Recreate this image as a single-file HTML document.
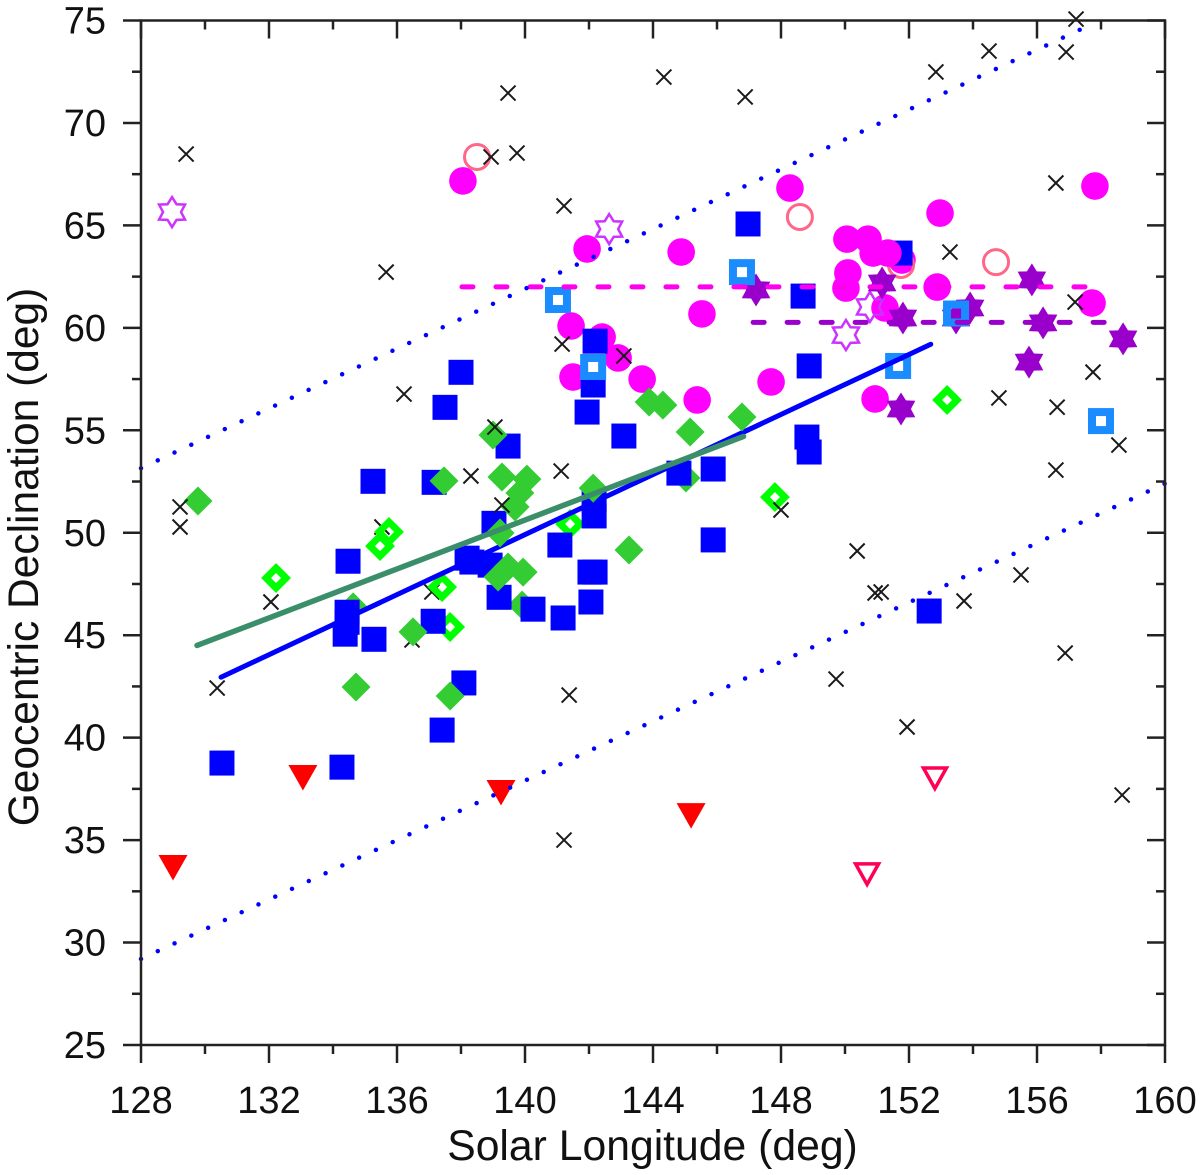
<!DOCTYPE html>
<html lang="en">
<head>
<meta charset="utf-8">
<title>Geocentric Declination vs Solar Longitude</title>
<style>
html,body{margin:0;padding:0;background:#fff;width:1200px;height:1175px;overflow:hidden}
svg{display:block}
text{font-family:"Liberation Sans",Arial,sans-serif;fill:#111}
</style>
</head>
<body>
<svg id="chart" xmlns="http://www.w3.org/2000/svg" width="1200" height="1175" viewBox="0 0 1200 1175">
  <g id="series-layer"></g>
  <g id="axis-layer"></g>
  <text x="652.5" y="1160" font-size="42.7" text-anchor="middle">Solar Longitude (deg)</text>
  <text transform="translate(38,557) rotate(-90)" font-size="42.5" text-anchor="middle">Geocentric Declination (deg)</text>
</svg>
<script>
// Axis tick values
const xMajorTicks = [128,132,136,140,144,148,152,156,160];
const xMinorTicks = [130,134,138,142,146,150,154,158];
const yMajorTicks = [25,30,35,40,45,50,55,60,65,70,75];
const yMinorTicks = [27.5,32.5,37.5,42.5,47.5,52.5,57.5,62.5,67.5,72.5];

// Lines
const upperDottedX = [128,157.41];
const upperDottedY = [53.15,74.6];
const lowerDottedX = [128,160];
const lowerDottedY = [29.2,52.4];
const blueFitX = [130.5,152.68];
const blueFitY = [42.95,59.2];
const greenFitX = [129.75,146.83];
const greenFitY = [44.5,54.7];
const magentaMeanX = [138.03,157.84];
const magentaMeanY = [62,62];
const purpleMeanX = [147.13,158.4];
const purpleMeanY = [60.27,60.27];

// Blue filled squares
const blueSquareX = [130.53,134.28,134.47,134.44,134.44,134.38,135.28,135.25,137.16,137.13,137.5,138,137.41,138.09,138.19,138.34,138.91,139.03,139.19,139.47,140.25,141.19,141.09,142.16,142.16,142.03,142.19,142.06,141.94,142.13,142.19,143.09,144.81,145.88,145.88,146.97,148.69,148.88,148.81,148.88,151.72,152.63];
const blueSquareY = [38.76,38.56,48.61,46.12,45.63,45.05,44.8,52.51,52.46,45.68,56.12,57.83,40.37,42.67,48.76,48.57,48.42,50.46,46.85,54.23,46.27,45.84,49.4,51.6,50.82,48.08,48.08,46.62,55.89,57.21,59.35,54.72,52.91,53.11,49.65,65.07,61.55,58.14,54.67,53.94,63.65,46.18];

// Light blue hollow squares
const hollowSquareX = [141.03,142.13,146.78,151.66,153.47,158];
const hollowSquareY = [61.36,58.09,62.72,58.14,60.7,55.45];

// Magenta filled circles (drawn below the blue squares)
const circleX = [138.06,141.94,141.44,142.41,141.5,142.91,143.66,144.88,145.53,145.38,147.69,148.28,150.94,152.97,152.88,157.81,157.72,151.25,151.78];
const circleY = [67.17,63.85,60.09,59.55,57.6,58.53,57.5,63.7,60.68,56.48,57.36,66.82,56.53,65.6,61.99,66.92,61.21,60.97,63.31];
// Magenta filled circles (drawn above the blue squares)
const clusterCircleX = [150.06,150.72,150.09,150.03,150.88,151.34];
const clusterCircleY = [64.33,64.33,62.68,61.94,63.65,63.65];

// Pink hollow circles
const hollowCircleX = [138.5,148.59,151.75,154.72];
const hollowCircleY = [68.34,65.41,63.07,63.21];

// Purple stars
const starX = [147.22,151.16,151.81,151.75,153.91,153.47,155.84,156.19,155.75,158.69];
const starY = [61.85,62.19,60.48,56.04,60.97,60.48,62.34,60.24,58.33,59.46];
const hollowStarX = [128.97,142.63,150.03,150.78];
const hollowStarY = [65.65,64.82,59.65,61.02];

// Green filled diamonds (below squares, then above squares)
const lowDiamondX = [134.63,139.91,145.03];
const lowDiamondY = [46.38,46.47,52.67];
const diamondX = [129.78,134.72,136.5,137.66,137.47,139,139.28,140.06,139.84,139.69,139.22,139.16,139.47,139.94,142.13,143.25,143.88,144.31,145.16,146.78];
const diamondY = [51.55,42.47,45.16,42.03,52.53,54.77,52.72,52.62,51.94,51.26,49.99,47.84,48.33,48.08,52.18,49.16,56.38,56.23,54.92,55.65];

// Lime hollow diamonds
const hollowDiamondX = [132.22,135.47,135.75,137.41,137.66,141.41,147.81,153.19];
const hollowDiamondY = [47.79,49.35,50.04,47.35,45.4,50.43,51.74,56.48];

// Red triangles
const triangleX = [129,133.06,139.25,145.19];
const triangleY = [33.69,38.08,37.35,36.22];
const hollowTriangleX = [152.81,150.69];
const hollowTriangleY = [38.03,33.35];

// Black crosses (beneath the diamonds)
const lowCrossX = [135.53,137.09,136.47];
const lowCrossY = [50.28,47.11,44.77];
// Black crosses (on top)
const crossX = [129.41,129.22,129.22,130.38,132.06,138.94,139.47,139.75,141.22,135.66,136.22,141.16,143.09,139.06,138.31,139.28,141.13,141.22,141.38,144.34,146.88,152.84,154.5,156.91,157.22,156.59,153.28,157.19,157.75,156.63,156.59,154.81,158.56,158.66,156.88,155.5,153.72,151.94,149.72,150.38,150.94,151.13,148];
const crossY = [68.48,51.26,50.28,42.42,46.62,68.34,71.46,68.53,65.95,62.72,56.77,59.21,58.63,55.16,52.77,51.35,53.01,35,42.08,72.24,71.27,72.49,73.51,73.46,75.07,67.07,63.7,61.26,57.84,56.13,53.06,56.58,54.28,37.2,44.13,47.94,46.67,40.52,42.86,49.11,47.06,47.11,51.11];

const NS = 'http://www.w3.org/2000/svg';
const X0 = 141, X1 = 1165, Y0 = 1045, Y1 = 20.5;
const sx = v => X0 + (v - 128) * (X1 - X0) / 32;
const sy = v => Y0 - (v - 25) * (Y0 - Y1) / 50;
const series = document.getElementById('series-layer');
const axes = document.getElementById('axis-layer');

function shape(parent, tag, attrs) {
  const el = document.createElementNS(NS, tag);
  for (const k in attrs) el.setAttribute(k, attrs[k]);
  parent.appendChild(el);
  return el;
}
function square(cx, cy, size, attrs) {
  return shape(series, 'rect', Object.assign({x: cx - size / 2, y: cy - size / 2, width: size, height: size}, attrs));
}
function poly(pts, attrs) {
  return shape(series, 'polygon', Object.assign({points: pts.map(p => p[0].toFixed(2) + ',' + p[1].toFixed(2)).join(' ')}, attrs));
}
function diamondPts(cx, cy, r) {
  return [[cx, cy - r], [cx + r, cy], [cx, cy + r], [cx - r, cy]];
}
function starPts(cx, cy, R) {
  const pts = [];
  for (let i = 0; i < 12; i++) {
    const a = i * Math.PI / 6;
    const r = i % 2 ? R * 0.6 : R;
    pts.push([cx + r * Math.sin(a), cy - r * Math.cos(a)]);
  }
  return pts;
}
function seg(xs, ys, attrs) {
  return shape(series, 'line', Object.assign({x1: sx(xs[0]), y1: sy(ys[0]), x2: sx(xs[1]), y2: sy(ys[1])}, attrs));
}
function crossPath(cx, cy, h) {
  return `M${cx - h} ${cy - h}L${cx + h} ${cy + h}M${cx - h} ${cy + h}L${cx + h} ${cy - h}`;
}

let el;
// Crosses beneath diamonds
lowCrossX.forEach((v, i) => {
  const m = shape(series, 'path', {d: crossPath(sx(v), sy(lowCrossY[i]), 7.5), stroke: '#1a1a1a', 'stroke-width': 2, fill: 'none'});
  
  
});
// Magenta circles
circleX.forEach((v, i) => {
  const m = shape(series, 'circle', {cx: sx(v), cy: sy(circleY[i]), r: 13.8, fill: '#ff00ff'});
  
  
});
// Hollow circles
hollowCircleX.forEach((v, i) => {
  const m = shape(series, 'circle', {cx: sx(v), cy: sy(hollowCircleY[i]), r: 12.5, fill: 'none', stroke: '#ff6688', 'stroke-width': 3});
  
  
});
// Low diamonds
lowDiamondX.forEach((v, i) => {
  const m = poly(diamondPts(sx(v), sy(lowDiamondY[i]), 14.5), {fill: '#33cc33'});
  
  
});
// Hollow diamonds
hollowDiamondX.forEach((v, i) => {
  const m = poly(diamondPts(sx(v), sy(hollowDiamondY[i]), 10), {fill: 'none', stroke: '#00ff00', 'stroke-width': 7});
  
  
});
// Blue squares
blueSquareX.forEach((v, i) => {
  const m = square(sx(v), sy(blueSquareY[i]), 25, {fill: '#0000ff'});
  
  
});
// Circle cluster above squares
clusterCircleX.forEach((v, i) => {
  const m = shape(series, 'circle', {cx: sx(v), cy: sy(clusterCircleY[i]), r: 13.8, fill: '#ff00ff'});
  
  
});
// Hollow stars
hollowStarX.forEach((v, i) => {
  const m = poly(starPts(sx(v), sy(hollowStarY[i]), 15), {fill: 'none', stroke: '#cc33ff', 'stroke-width': 2.5});
  
  
});
// Filled stars
starX.forEach((v, i) => {
  const m = poly(starPts(sx(v), sy(starY[i]), 16.5), {fill: '#9900cc'});
  
  
});
// Light blue hollow squares
hollowSquareX.forEach((v, i) => {
  const m = square(sx(v), sy(hollowSquareY[i]), 18, {fill: 'none', stroke: '#1a8cff', 'stroke-width': 8});
  
  
});
// Blue fit line
el = seg(blueFitX, blueFitY, {stroke: '#0000ff', 'stroke-width': 5, 'stroke-linecap': 'round'});


// Green diamonds
diamondX.forEach((v, i) => {
  const m = poly(diamondPts(sx(v), sy(diamondY[i]), 14.5), {fill: '#33cc33'});
  
  
});
// Green fit line
el = seg(greenFitX, greenFitY, {stroke: '#3a8f6a', 'stroke-width': 5.5, 'stroke-linecap': 'round'});


// Mean declination dashes
el = seg(magentaMeanX, magentaMeanY, {stroke: '#ff00ee', 'stroke-width': 5, 'stroke-linecap': 'round', 'stroke-dasharray': '11 23'});


el = seg(purpleMeanX, purpleMeanY, {stroke: '#9900cc', 'stroke-width': 5, 'stroke-linecap': 'round', 'stroke-dasharray': '11 23'});


// Filled triangles
triangleX.forEach((v, i) => {
  const cx = sx(v), cy = sy(triangleY[i]);
  const m = poly([[cx - 14.5, cy - 12], [cx + 14.5, cy - 12], [cx, cy + 13.5]], {fill: '#ff0000'});
  
  
});
// Hollow triangles
hollowTriangleX.forEach((v, i) => {
  const cx = sx(v), cy = sy(hollowTriangleY[i]);
  const m = poly([[cx - 11.5, cy - 10], [cx + 11.5, cy - 10], [cx, cy + 10.5]], {fill: 'none', stroke: '#ff0055', 'stroke-width': 3.5});
  
  
});
// Dotted envelope lines
el = seg(upperDottedX, upperDottedY, {stroke: '#0000ff', 'stroke-width': 4.5, 'stroke-linecap': 'round', 'stroke-dasharray': '0 18.5'});


el = seg(lowerDottedX, lowerDottedY, {stroke: '#0000ff', 'stroke-width': 4.5, 'stroke-linecap': 'round', 'stroke-dasharray': '0 18.5'});


// Crosses
crossX.forEach((v, i) => {
  const m = shape(series, 'path', {d: crossPath(sx(v), sy(crossY[i]), 7.5), stroke: '#1a1a1a', 'stroke-width': 2, fill: 'none'});
  
  
});

// Axes
const axisStyle = {stroke: '#222', 'stroke-width': 2.5, fill: 'none'};
const frame = shape(axes, 'rect', Object.assign({x: X0, y: Y1, width: X1 - X0, height: Y0 - Y1}, axisStyle));


function tick(x1, y1, x2, y2) {
  return shape(axes, 'line', Object.assign({x1, y1, x2, y2}, axisStyle));
}
xMajorTicks.forEach(v => {
  const x = sx(v);
  const b = tick(x, Y0, x, Y0 + 18);
  
  
  const t = tick(x, Y1, x, Y1 + 18);
  
  
  const lab = shape(axes, 'text', {x: x, y: 1113, 'font-size': 38, 'text-anchor': 'middle'});
  lab.textContent = String(v);
  
  
});
xMinorTicks.forEach(v => {
  const x = sx(v);
  const b = tick(x, Y0, x, Y0 + 9);
  
  
  const t = tick(x, Y1, x, Y1 + 9);
  
  
});
yMajorTicks.forEach(v => {
  const y = sy(v);
  const l = tick(X0 - 18, y, X0, y);
  
  
  const r = tick(X1 - 18, y, X1, y);
  
  
  const lab = shape(axes, 'text', {x: 106, y: y + 13, 'font-size': 38, 'text-anchor': 'end'});
  lab.textContent = String(v);
  
  
});
yMinorTicks.forEach(v => {
  const y = sy(v);
  const l = tick(X0 - 9, y, X0, y);
  
  
  const r = tick(X1 - 9, y, X1, y);
  
  
});
</script>
</body>
</html>
